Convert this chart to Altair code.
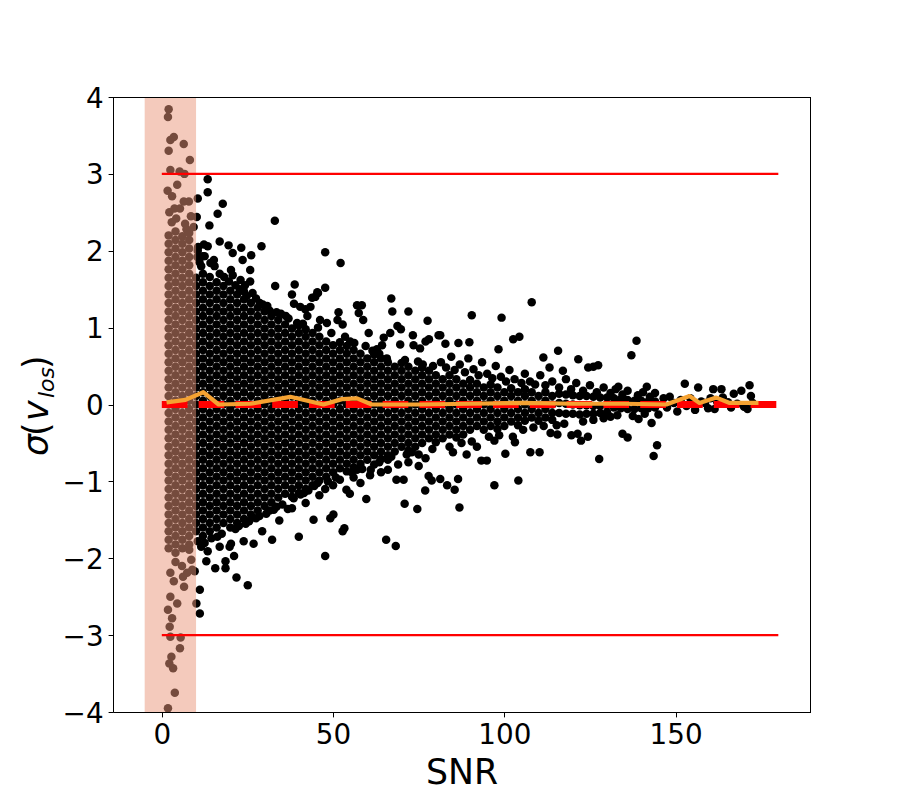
import altair as alt
import pandas as pd

# ---------------- data ----------------
# dense columns of points inside the shaded strip, sigma per SNR column
shaded_cols = {
    2: [2.20, 2.09, 1.98, 1.87, 1.76, 1.65, 1.54, 1.43, 1.32, 1.21, 1.10, 0.99, 0.88, 0.77, 0.66, 0.55, 0.44, 0.33, 0.22, 0.11, 0.00, -0.11, -0.22, -0.33, -0.44, -0.55, -0.66, -0.77, -0.88, -0.99, -1.10, -1.21, -1.32, -1.43, -1.54, -1.65, -1.76, -1.87],
    4: [2.25, 2.14, 2.03, 1.92, 1.81, 1.70, 1.59, 1.48, 1.37, 1.26, 1.15, 1.04, 0.93, 0.82, 0.71, 0.60, 0.49, 0.38, 0.27, 0.16, 0.05, -0.06, -0.17, -0.28, -0.39, -0.50, -0.61, -0.72, -0.83, -0.94, -1.05, -1.16, -1.27, -1.38, -1.49, -1.60, -1.71, -1.82, -1.93],
    6: [2.19, 2.09, 1.98, 1.87, 1.76, 1.65, 1.54, 1.43, 1.32, 1.21, 1.10, 0.99, 0.88, 0.77, 0.66, 0.55, 0.44, 0.33, 0.22, 0.11, 0.00, -0.11, -0.22, -0.33, -0.44, -0.55, -0.66, -0.77, -0.88, -0.99, -1.10, -1.21, -1.32, -1.43, -1.54, -1.65, -1.76, -1.87],
    8: [2.23, 2.14, 2.03, 1.92, 1.81, 1.70, 1.59, 1.48, 1.37, 1.26, 1.15, 1.04, 0.93, 0.82, 0.71, 0.60, 0.49, 0.38, 0.27, 0.16, 0.05, -0.06, -0.17, -0.28, -0.39, -0.50, -0.61, -0.72, -0.83, -0.94, -1.05, -1.16, -1.27, -1.38, -1.49, -1.60, -1.71, -1.82, -1.89],
}
shaded_outliers = [
    (2.0, 3.84), (1.8, 3.74), (3.5, 3.48), (2.5, 3.44), (6.4, 3.39), (2.0, 3.30), (8.2, 3.18), (2.5, 3.05),
    (5.2, 3.03), (6.6, 3.00), (4.5, 2.86), (1.7, 2.78), (3.0, 2.71), (7.9, 2.64), (6.4, 2.64), (3.7, 2.55),
    (5.3, 2.55), (2.2, 2.50), (8.5, 2.45), (6.8, 2.35), (2.9, 2.37), (4.2, 2.42), (9.3, 2.31), (7.2, 2.28),
    (2.5, -2.19), (7.4, -2.19), (8.9, -2.15), (5.9, -2.10), (3.5, -2.30), (6.5, -2.37), (2.5, -2.50), (4.5, -2.59),
    (1.8, -2.67), (3.0, -2.78), (2.3, -2.89), (2.5, -3.02), (5.5, -3.03), (5.3, -3.17), (2.8, -3.28), (2.2, -3.37),
    (3.3, -3.43), (3.8, -3.75), (1.8, -3.95), (4.0, -2.05), (8.6, -2.02), (6.2, -2.24),
]
core_10_40 = {
    10: [1.65, 1.54, 1.43, 1.32, 1.21, 1.10, 0.99, 0.88, 0.77, 0.66, 0.55, 0.44, 0.33, 0.22, 0.11, 0.00, -0.11, -0.22, -0.33, -0.44, -0.55, -0.66, -0.77, -0.88, -0.99, -1.10, -1.21, -1.32, -1.43, -1.54, -1.65],
    12: [1.70, 1.59, 1.48, 1.37, 1.26, 1.15, 1.04, 0.93, 0.82, 0.71, 0.60, 0.49, 0.38, 0.27, 0.16, 0.05, -0.06, -0.17, -0.28, -0.39, -0.50, -0.61, -0.72, -0.83, -0.94, -1.05, -1.16, -1.27, -1.38, -1.49, -1.60, -1.71],
    14: [1.66, 1.54, 1.43, 1.32, 1.21, 1.10, 0.99, 0.88, 0.77, 0.66, 0.55, 0.44, 0.33, 0.22, 0.11, 0.00, -0.11, -0.22, -0.33, -0.44, -0.55, -0.66, -0.77, -0.88, -0.99, -1.10, -1.21, -1.32, -1.43, -1.54, -1.65],
    16: [1.59, 1.48, 1.37, 1.26, 1.15, 1.04, 0.93, 0.82, 0.71, 0.60, 0.49, 0.38, 0.27, 0.16, 0.05, -0.06, -0.17, -0.28, -0.39, -0.50, -0.61, -0.72, -0.83, -0.94, -1.05, -1.16, -1.27, -1.38, -1.49, -1.60],
    18: [1.54, 1.43, 1.32, 1.21, 1.10, 0.99, 0.88, 0.77, 0.66, 0.55, 0.44, 0.33, 0.22, 0.11, 0.00, -0.11, -0.22, -0.33, -0.44, -0.55, -0.66, -0.77, -0.88, -0.99, -1.10, -1.21, -1.32, -1.43, -1.54],
    20: [1.48, 1.37, 1.26, 1.15, 1.04, 0.93, 0.82, 0.71, 0.60, 0.49, 0.38, 0.27, 0.16, 0.05, -0.06, -0.17, -0.28, -0.39, -0.50, -0.61, -0.72, -0.83, -0.94, -1.05, -1.16, -1.27, -1.38, -1.49, -1.60],
    22: [1.43, 1.32, 1.21, 1.10, 0.99, 0.88, 0.77, 0.66, 0.55, 0.44, 0.33, 0.22, 0.11, 0.00, -0.11, -0.22, -0.33, -0.44, -0.55, -0.66, -0.77, -0.88, -0.99, -1.10, -1.21, -1.32, -1.43, -1.54],
    24: [1.47, 1.37, 1.26, 1.15, 1.04, 0.93, 0.82, 0.71, 0.60, 0.49, 0.38, 0.27, 0.16, 0.05, -0.06, -0.17, -0.28, -0.39, -0.50, -0.61, -0.72, -0.83, -0.94, -1.05, -1.16, -1.27, -1.38, -1.49],
    26: [1.32, 1.21, 1.10, 0.99, 0.88, 0.77, 0.66, 0.55, 0.44, 0.33, 0.22, 0.11, 0.00, -0.11, -0.22, -0.33, -0.44, -0.55, -0.66, -0.77, -0.88, -0.99, -1.10, -1.21, -1.32, -1.43],
    28: [1.26, 1.15, 1.04, 0.93, 0.82, 0.71, 0.60, 0.49, 0.38, 0.27, 0.16, 0.05, -0.06, -0.17, -0.28, -0.39, -0.50, -0.61, -0.72, -0.83, -0.94, -1.05, -1.16, -1.27, -1.38],
    30: [1.21, 1.10, 0.99, 0.88, 0.77, 0.66, 0.55, 0.44, 0.33, 0.22, 0.11, 0.00, -0.11, -0.22, -0.33, -0.44, -0.55, -0.66, -0.77, -0.88, -0.99, -1.10, -1.21, -1.32],
    32: [1.15, 1.04, 0.93, 0.82, 0.71, 0.60, 0.49, 0.38, 0.27, 0.16, 0.05, -0.06, -0.17, -0.28, -0.39, -0.50, -0.61, -0.72, -0.83, -0.94, -1.05, -1.16, -1.27],
    34: [1.10, 0.99, 0.88, 0.77, 0.66, 0.55, 0.44, 0.33, 0.22, 0.11, 0.00, -0.11, -0.22, -0.33, -0.44, -0.55, -0.66, -0.77, -0.88, -0.99, -1.10, -1.21],
    36: [1.04, 0.93, 0.82, 0.71, 0.60, 0.49, 0.38, 0.27, 0.16, 0.05, -0.06, -0.17, -0.28, -0.39, -0.50, -0.61, -0.72, -0.83, -0.94, -1.05, -1.16],
    38: [0.99, 0.88, 0.77, 0.66, 0.55, 0.44, 0.33, 0.22, 0.11, 0.00, -0.11, -0.22, -0.33, -0.44, -0.55, -0.66, -0.77, -0.88, -0.99, -1.10, -1.20],
}
core_40_80 = {
    40: [1.03, 0.93, 0.82, 0.71, 0.60, 0.49, 0.38, 0.27, 0.16, 0.05, -0.06, -0.17, -0.28, -0.39, -0.50, -0.61, -0.72, -0.83, -0.94, -1.05, -1.15],
    42: [0.98, 0.88, 0.77, 0.66, 0.55, 0.44, 0.33, 0.22, 0.11, 0.00, -0.11, -0.22, -0.33, -0.44, -0.55, -0.66, -0.77, -0.88, -0.99, -1.10],
    44: [0.93, 0.82, 0.71, 0.60, 0.49, 0.38, 0.27, 0.16, 0.05, -0.06, -0.17, -0.28, -0.39, -0.50, -0.61, -0.72, -0.83, -0.94, -1.05],
    46: [0.88, 0.77, 0.66, 0.55, 0.44, 0.33, 0.22, 0.11, 0.00, -0.11, -0.22, -0.33, -0.44, -0.55, -0.66, -0.77, -0.88, -0.99],
    48: [0.82, 0.71, 0.60, 0.49, 0.38, 0.27, 0.16, 0.05, -0.06, -0.17, -0.28, -0.39, -0.50, -0.61, -0.72, -0.83, -0.94],
    50: [0.77, 0.66, 0.55, 0.44, 0.33, 0.22, 0.11, 0.00, -0.11, -0.22, -0.33, -0.44, -0.55, -0.66, -0.77, -0.88],
    52: [0.81, 0.71, 0.60, 0.49, 0.38, 0.27, 0.16, 0.05, -0.06, -0.17, -0.28, -0.39, -0.50, -0.61, -0.72, -0.83],
    54: [0.76, 0.66, 0.55, 0.44, 0.33, 0.22, 0.11, 0.00, -0.11, -0.22, -0.33, -0.44, -0.55, -0.66, -0.77, -0.87],
    56: [0.71, 0.60, 0.49, 0.38, 0.27, 0.16, 0.05, -0.06, -0.17, -0.28, -0.39, -0.50, -0.61, -0.72, -0.82],
    58: [0.66, 0.55, 0.44, 0.33, 0.22, 0.11, 0.00, -0.11, -0.22, -0.33, -0.44, -0.55, -0.66, -0.77],
    60: [0.60, 0.49, 0.38, 0.27, 0.16, 0.05, -0.06, -0.17, -0.28, -0.39, -0.50, -0.61, -0.72],
    62: [0.65, 0.55, 0.44, 0.33, 0.22, 0.11, 0.00, -0.11, -0.22, -0.33, -0.44, -0.55, -0.66],
    64: [0.60, 0.49, 0.38, 0.27, 0.16, 0.05, -0.06, -0.17, -0.28, -0.39, -0.50, -0.61, -0.71],
    66: [0.55, 0.44, 0.33, 0.22, 0.11, 0.00, -0.11, -0.22, -0.33, -0.44, -0.55, -0.66],
    68: [0.49, 0.38, 0.27, 0.16, 0.05, -0.06, -0.17, -0.28, -0.39, -0.50, -0.61],
    70: [0.54, 0.44, 0.33, 0.22, 0.11, 0.00, -0.11, -0.22, -0.33, -0.44, -0.55],
    72: [0.49, 0.38, 0.27, 0.16, 0.05, -0.06, -0.17, -0.28, -0.39, -0.50, -0.60],
    74: [0.44, 0.33, 0.22, 0.11, 0.00, -0.11, -0.22, -0.33, -0.44, -0.55],
    76: [0.48, 0.38, 0.27, 0.16, 0.05, -0.06, -0.17, -0.28, -0.39, -0.50],
    78: [0.44, 0.33, 0.22, 0.11, 0.00, -0.11, -0.22, -0.33, -0.44],
}
core_80_145 = {
    80: [0.38, 0.27, 0.16, 0.05, -0.06, -0.17, -0.28, -0.39, -0.49],
    82: [0.33, 0.22, 0.11, 0.00, -0.11, -0.22, -0.33, -0.44],
    84: [0.38, 0.27, 0.16, 0.05, -0.06, -0.17, -0.28, -0.39],
    86: [0.33, 0.22, 0.11, 0.00, -0.11, -0.22, -0.33, -0.43],
    88: [0.27, 0.16, 0.05, -0.06, -0.17, -0.28, -0.39],
    90: [0.32, 0.22, 0.11, 0.00, -0.11, -0.22, -0.33],
    92: [0.27, 0.16, 0.05, -0.06, -0.17, -0.28],
    94: [0.22, 0.11, 0.00, -0.11, -0.22, -0.33],
    96: [0.26, 0.16, 0.05, -0.06, -0.17, -0.28],
    98: [0.22, 0.11, 0.00, -0.11, -0.22, -0.32],
    100: [0.16, 0.05, -0.06, -0.17, -0.28],
    102: [0.21, 0.11, 0.00, -0.11, -0.22],
    104: [0.16, 0.05, -0.06, -0.17, -0.27],
    106: [0.20, 0.11, 0.00, -0.11, -0.21],
    108: [0.16, 0.05, -0.06, -0.17],
    110: [0.11, 0.00, -0.11, -0.21],
    112: [0.16, 0.05, -0.06, -0.17],
    114: [0.11, 0.00, -0.11, -0.20],
    116: [0.14, 0.02, -0.11],
    118: [0.13, 0.01, -0.12],
    120: [0.12, 0.00, -0.12],
    122: [0.11, -0.01, -0.13],
    124: [0.11, -0.01, -0.12],
    126: [0.10, -0.02, -0.12],
    128: [0.09, -0.02, -0.11],
    130: [0.09, -0.01, -0.10],
    132: [0.08, -0.04],
    134: [0.07, -0.05],
    136: [0.06, -0.06],
    138: [0.05, -0.06],
    140: [0.05, -0.05],
    142: [0.04, -0.05],
    144: [0.04, -0.04],
}
upper_10_80 = [
    (10.2, 2.44), (10.5, 2.68), (13.4, 2.93), (13.4, 2.76), (17.8, 2.61), (16.3, 2.48), (13.9, 2.33), (33.0, 2.39),
    (16.9, 2.12), (19.5, 2.07), (13.4, 2.06), (23.2, 2.04), (29.1, 2.06), (20.7, 1.97), (10.5, 2.00), (12.0, 1.93),
    (12.5, 1.93), (23.6, 1.88), (26.1, 1.94), (47.7, 1.98), (52.2, 1.84), (11.5, 1.80), (15.4, 1.80), (10.6, 2.05),
    (12.3, 2.08), (15.2, 1.88), (10.4, 1.92), (25.8, 1.75), (20.7, 1.68), (20.2, 1.75), (25.8, 1.60), (24.3, 1.55),
    (33.1, 1.54), (38.8, 1.56), (47.7, 1.52), (24.8, 1.41), (38.0, 1.43), (44.8, 1.40), (45.6, 1.45), (67.0, 1.38),
    (43.4, 1.27), (57.0, 1.29), (58.4, 1.29), (67.3, 1.21), (72.0, 1.21), (51.6, 1.20), (77.6, 1.09), (80.8, 0.90),
    (11.0, 1.85), (14.2, 1.84), (16.9, 1.70), (18.2, 1.66), (19.6, 1.60), (21.5, 1.55), (22.8, 1.50), (23.0, 1.62),
    (26.5, 1.45), (27.5, 1.38), (28.6, 1.32), (29.5, 1.30), (30.8, 1.28), (31.5, 1.22), (33.5, 1.20), (34.8, 1.18),
    (36.2, 1.15), (37.0, 1.12), (38.6, 1.31), (39.5, 1.06), (40.4, 1.27), (41.9, 1.24), (41.2, 1.05), (42.5, 1.15),
    (43.9, 1.39), (45.4, 1.46), (45.6, 1.00), (46.2, 1.10), (48.2, 1.06), (49.5, 0.93), (51.3, 1.10), (52.8, 1.04),
    (53.5, 0.88), (55.0, 0.82), (56.2, 0.80), (57.5, 1.19), (58.8, 1.10), (59.5, 0.76), (60.4, 0.93), (61.5, 0.70),
    (62.8, 0.72), (63.5, 0.66), (64.3, 0.77), (64.8, 0.87), (65.7, 0.60), (66.7, 0.93), (68.8, 1.02), (69.6, 0.78),
    (69.8, 0.98), (71.0, 0.58), (73.3, 0.90), (73.5, 0.77), (74.8, 0.56), (75.4, 0.73), (76.2, 0.52), (77.0, 0.82),
    (78.0, 0.85), (79.2, 0.50),
]
lower_10_80 = [
    (9.6, -2.17), (10.1, -2.59), (11.1, -2.41), (11.1, -2.72), (10.5, -1.78), (11.5, -1.85), (12.5, -1.80), (13.4, -1.91),
    (13.0, -2.04), (14.5, -1.74), (15.6, -2.13), (16.2, -1.72), (16.9, -1.85), (17.5, -1.68), (18.6, -2.13), (18.6, -2.04),
    (19.8, -1.85), (20.2, -1.81), (21.1, -1.97), (21.5, -1.62), (21.8, -2.25), (22.5, -1.58), (23.9, -1.78), (24.5, -1.55),
    (25.1, -2.35), (25.5, -1.52), (26.8, -1.81), (27.5, -1.48), (28.5, -1.45), (29.3, -1.65), (30.5, -1.42), (31.5, -1.38),
    (32.2, -1.76), (32.7, -1.37), (33.5, -1.33), (34.3, -1.51), (35.2, -1.30), (36.8, -1.36), (38.0, -1.35), (38.5, -1.22),
    (40.0, -1.72), (40.5, -1.17), (41.5, -1.15), (42.8, -1.12), (44.3, -1.50), (44.5, -1.06), (45.5, -1.02), (47.7, -1.10),
    (47.7, -1.97), (48.5, -1.00), (49.2, -1.48), (50.1, -1.43), (50.8, -0.95), (52.8, -1.65), (53.3, -1.61), (53.9, -1.11),
    (54.9, -1.16), (55.5, -0.88), (57.0, -0.85), (58.5, -0.84), (59.7, -1.23), (60.8, -0.92), (62.0, -0.78), (63.5, -0.75),
    (65.5, -1.76), (66.0, -0.72), (67.0, -0.68), (68.3, -1.84), (68.5, -0.98), (70.6, -0.98), (70.9, -1.29), (71.5, -0.65),
    (73.0, -0.62), (74.6, -1.36), (75.0, -0.65), (76.9, -1.12), (77.9, -0.93), (78.8, -0.99), (79.0, -0.58),
    (42.0, -1.28), (46.0, -1.18), (50.0, -1.05), (52.0, -0.98), (56.0, -0.95), (58.0, -1.02), (61.0, -0.85), (64.0, -0.88),
    (66.0, -0.85), (69.0, -0.78), (72.0, -0.75), (75.0, -0.80), (77.0, -0.70),
]
upper_80_175 = [
    (81.3, 0.90), (82.8, 0.79), (86.6, 0.80), (89.8, 0.81), (90.5, 1.16), (99.2, 1.13), (102.6, 0.85), (104.4, 0.88),
    (108.0, 1.33), (98.3, 0.72), (115.7, 0.70), (111.4, 0.61), (121.6, 0.59), (127.4, 0.51), (124.5, 0.48), (126.0, 0.49),
    (113.2, 0.48), (117.1, 0.44), (138.6, 0.83), (137.1, 0.64), (133.3, 0.23), (141.6, 0.23), (81.5, 0.55), (83.0, 0.48),
    (84.5, 0.62), (85.5, 0.45), (87.0, 0.52), (88.5, 0.42), (89.5, 0.60), (91.0, 0.46), (92.5, 0.38), (93.5, 0.55),
    (95.0, 0.40), (96.5, 0.34), (97.5, 0.50), (99.0, 0.36), (100.5, 0.30), (101.5, 0.45), (103.0, 0.33), (105.0, 0.28),
    (106.0, 0.40), (107.5, 0.30), (109.0, 0.26), (110.5, 0.38), (112.0, 0.25), (114.0, 0.30), (116.0, 0.22), (118.0, 0.33),
    (119.5, 0.20), (121.0, 0.28), (123.0, 0.18), (125.0, 0.25), (127.0, 0.16), (129.0, 0.22), (131.0, 0.15), (132.5, 0.20),
    (134.5, 0.13), (136.0, 0.18), (139.0, 0.12), (140.5, 0.16), (142.5, 0.10), (144.0, 0.15),
]
lower_80_175 = [
    (81.3, -0.97), (83.3, -1.05), (85.5, -1.11), (86.5, -0.97), (86.9, -1.34), (84.0, -0.55), (85.0, -0.62), (87.5, -0.50),
    (89.0, -0.65), (90.5, -0.48), (92.0, -0.55), (93.3, -0.73), (94.9, -0.73), (95.5, -0.42), (97.1, -0.47), (97.1, -1.05),
    (98.5, -0.40), (100.3, -0.64), (102.5, -0.42), (103.1, -0.49), (104.1, -0.99), (105.5, -0.33), (107.6, -0.62), (108.5, -0.30),
    (110.3, -0.62), (111.5, -0.28), (113.5, -0.37), (115.5, -0.39), (115.3, -0.27), (117.5, -0.25), (119.6, -0.40), (121.4, -0.38),
    (122.4, -0.47), (124.4, -0.42), (123.0, -0.22), (126.0, -0.20), (127.7, -0.71), (129.0, -0.18), (131.0, -0.16), (133.0, -0.14),
    (134.5, -0.38), (136.0, -0.43), (137.5, -0.15), (139.2, -0.19), (141.0, -0.12), (143.0, -0.24), (143.6, -0.67), (144.6, -0.53),
    (145.0, -0.13),
]
tail_145_175 = [
    (146.5, 0.08), (147.5, -0.04), (148.3, 0.10), (149.5, 0.02), (150.5, -0.09), (151.5, 0.06), (152.7, 0.27), (153.2, -0.02),
    (154.3, 0.08), (155.7, -0.07), (156.6, 0.22), (157.5, 0.04), (158.6, 0.02), (159.5, -0.05), (160.2, 0.08), (161.0, 0.20),
    (161.4, -0.06), (162.2, 0.03), (163.4, 0.20), (163.8, 0.09), (165.3, 0.03), (166.2, -0.04), (167.0, 0.14), (168.0, 0.01),
    (169.2, 0.18), (170.0, -0.03), (171.6, 0.25), (171.0, -0.06), (172.0, 0.11), (172.5, 0.02),
]

# running (binned) mean, orange curve
bin_snr = [2.0, 6.9, 12.1, 16.6, 25.9, 37.5, 47.2, 52.6, 57.0, 61.3, 75.0, 90.0, 105.0, 120.0, 135.0, 147.3, 154.1, 157.0, 161.9, 165.8, 173.6]
bin_mean = [0.03, 0.06, 0.16, 0.00, 0.01, 0.10, 0.00, 0.07, 0.08, 0.00, 0.00, 0.01, 0.02, 0.01, 0.01, 0.00, 0.11, 0.02, 0.09, 0.02, 0.02]

# reference lines and shaded low-SNR strip
limit_sigma = [3, -3]
line_snr_range = [0, 180]
shaded_snr_range = [-5, 10]
sigma_range = [-4, 4]

# ---------------- build tables ----------------
rows = []
for cols in (shaded_cols, core_10_40, core_40_80, core_80_145):
    for snr, sigs in cols.items():
        for s in sigs:
            rows.append((snr, s))
for lst in (shaded_outliers, upper_10_80, lower_10_80, upper_80_175, lower_80_175, tail_145_175):
    rows.extend(lst)
points = pd.DataFrame(rows, columns=["snr", "sigma"])

mean_df = pd.DataFrame({"snr": bin_snr, "sigma": bin_mean})
limits_df = pd.DataFrame({"x0": [line_snr_range[0]] * 2, "x1": [line_snr_range[1]] * 2, "y": limit_sigma})
zero_df = pd.DataFrame({"x0": [line_snr_range[0]], "x1": [line_snr_range[1]], "y": [0]})
span_df = pd.DataFrame({"x0": [shaded_snr_range[0]], "x1": [shaded_snr_range[1]],
                        "y0": [sigma_range[0]], "y1": [sigma_range[1]]})

FONT = "DejaVu Sans"
W, H = 697, 615
xscale = alt.Scale(domain=[-14.25, 189.25], nice=False, zero=False)
yscale = alt.Scale(domain=sigma_range, nice=False, zero=False)
xaxis = alt.Axis(values=[0, 50, 100, 150], grid=False, labelFontSize=27.8, labelFont=FONT,
                 labelColor="black", tickSize=4.9, tickWidth=1, tickColor="black",
                 domainColor="black", domainWidth=1, labelPadding=4.7,
                 titleFont=FONT, titleFontSize=34.7, titleFontWeight="normal", titleColor="black",
                 titleX=W / 2, titleY=71, titleAlign="center", titleBaseline="alphabetic")
yaxis = alt.Axis(values=[-4, -3, -2, -1, 0, 1, 2, 3, 4], grid=False, labelFontSize=27.8, labelFont=FONT,
                 labelColor="black", tickSize=4.9, tickWidth=1, tickColor="black",
                 domainColor="black", domainWidth=1, labelPadding=5, labelBaseline="middle",
                 labelOffset=2)

X = lambda f: alt.X(f, scale=xscale, axis=xaxis, title="SNR")
Y = lambda f: alt.Y(f, scale=yscale, axis=yaxis, title="")

scatter = alt.Chart(points).mark_circle(size=72, color="black", opacity=1).encode(
    x=X("snr:Q"), y=Y("sigma:Q"))

span = alt.Chart(span_df).mark_rect(color="darksalmon", opacity=0.5).encode(
    x=X("x0:Q"), x2="x1:Q", y=Y("y0:Q"), y2="y1:Q")

limits = alt.Chart(limits_df).mark_rule(color="#ff0000", strokeWidth=2.1).encode(
    x=X("x0:Q"), x2="x1:Q", y=Y("y:Q"))

zero = alt.Chart(zero_df).mark_rule(color="#ff0000", strokeWidth=6.9, strokeDash=[25.7, 11.1]).encode(
    x=X("x0:Q"), x2="x1:Q", y=Y("y:Q"))

mean_line = alt.Chart(mean_df).mark_line(color="#f5a232", strokeWidth=4.2, strokeJoin="round",
                                          strokeCap="square").encode(x=X("snr:Q"), y=Y("sigma:Q"))

one = alt.Data(values=[{}])
# top and right spines of the axes box (crisp 1px lines)
top_spine = alt.Chart(one).mark_rule(color="black", strokeWidth=1).encode(
    x=alt.value(0), x2=alt.value(W + 1), y=alt.value(0.5))
right_spine = alt.Chart(one).mark_rule(color="black", strokeWidth=1).encode(
    x=alt.value(W + 0.5), y=alt.value(0), y2=alt.value(H + 1))

def piece(txt, x, y, size, style):
    return alt.Chart(one).mark_text(text=txt, font=FONT, fontSize=size, fontStyle=style, angle=270,
                                    align="left", baseline="alphabetic", color="black").encode(
        x=alt.value(x), y=alt.value(y))

ylabel = [
    piece("σ", -65, 359, 34.7, "italic"),
    piece("(", -65, 339, 34.7, "normal"),
    piece("v", -65, 324, 34.7, "italic"),
    piece("los", -59, 301, 22, "italic"),
    piece(")", -65, 272, 34.7, "normal"),
]

chart = alt.layer(scatter, span, limits, zero, mean_line, top_spine, right_spine, *ylabel).properties(
    width=W, height=H,
    autosize=alt.AutoSizeParams(type="none"),
    padding={"left": 105, "top": 89, "right": 30, "bottom": 80},
).configure_view(stroke="transparent").configure(background="white")

chart.save("out.html", embed_options={"renderer": "svg", "actions": False})
